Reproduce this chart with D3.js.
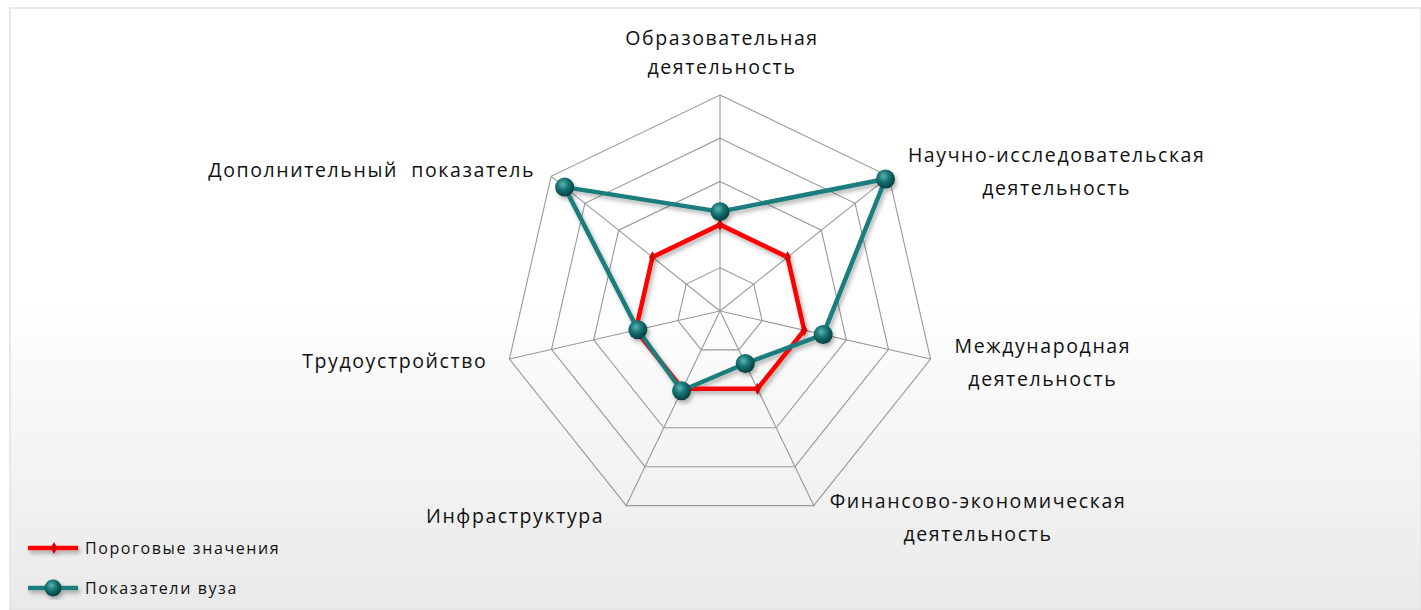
<!DOCTYPE html>
<html lang="ru">
<head>
  <meta charset="utf-8">
  <title>Radar</title>
  <script src="https://cdn.jsdelivr.net/npm/d3@7"></script>
  <style>
    body { margin: 0; background: #fff; }
    text { font-family: "Open Sans", sans-serif; fill: #111; white-space: pre; }
  </style>
</head>
<body>
<script>
  var w = 1421;
  var h = 610;

  // data
  var categories = [
    ["Образовательная", "деятельность"],
    ["Научно-исследовательская", "деятельность"],
    ["Международная", "деятельность"],
    ["Финансово-экономическая", "деятельность"],
    ["Инфраструктура"],
    ["Трудоустройство"],
    ["Дополнительный  показатель"]
  ];
  var seriesNames = ["Пороговые значения", "Показатели вуза"];
  var thresholds = [2, 2, 2, 2, 2, 2, 2];
  var university = [2.3, 4.9, 2.45, 1.35, 2.05, 1.95, 4.6];
  var gridLevels = [1, 2, 3, 4, 5];

  var cx = 720, cy = 311, R = 216;
  var r = d3.scaleLinear().domain([0, 5]).range([0, R]);
  var n = categories.length;
  var angle = function(i) { return i * 2 * Math.PI / n; };
  var pt = function(i, v) {
    return [cx + r(v) * Math.sin(angle(i)), cy - r(v) * Math.cos(angle(i))];
  };

  var svg = d3.select("body").append("svg")
      .attr("width", w)
      .attr("height", h);

  var defs = svg.append("defs");
  var bg = defs.append("linearGradient").attr("id", "bg")
      .attr("x1", 0).attr("y1", 0).attr("x2", 0).attr("y2", 1);
  bg.append("stop").attr("offset", "0%").attr("stop-color", "#ffffff");
  bg.append("stop").attr("offset", "48%").attr("stop-color", "#ffffff");
  bg.append("stop").attr("offset", "100%").attr("stop-color", "#e9e9e9");

  var ball = defs.append("radialGradient").attr("id", "ball")
      .attr("cx", "40%").attr("cy", "35%").attr("r", "65%");
  ball.append("stop").attr("offset", "0%").attr("stop-color", "#5fb3b3");
  ball.append("stop").attr("offset", "45%").attr("stop-color", "#177676");
  ball.append("stop").attr("offset", "100%").attr("stop-color", "#063c3c");

  var shadow = defs.append("filter").attr("id", "shadow")
      .attr("x", "-20%").attr("y", "-20%").attr("width", "140%").attr("height", "140%");
  shadow.append("feDropShadow").attr("dx", 2).attr("dy", 3)
      .attr("stdDeviation", 2).attr("flood-color", "#000").attr("flood-opacity", 0.3);

  // frame
  svg.append("rect")
      .attr("x", 10).attr("y", 8)
      .attr("width", w - 10).attr("height", h - 8)
      .attr("fill", "url(#bg)")
      .attr("stroke", "#e2e2e2")
      .attr("stroke-width", 1.5);

  // grid
  var grid = svg.append("g").attr("class", "grid");
  var ring = d3.line();
  grid.selectAll("path.ring")
      .data(gridLevels)
      .enter()
      .append("path")
      .attr("class", "ring")
      .attr("d", function(lv) {
        return ring(d3.range(n).map(function(i) { return pt(i, lv); })) + "Z";
      })
      .attr("fill", "none")
      .attr("stroke", "#999")
      .attr("stroke-width", 1.1);

  grid.selectAll("line.spoke")
      .data(d3.range(n))
      .enter()
      .append("line")
      .attr("class", "spoke")
      .attr("x1", cx).attr("y1", cy)
      .attr("x2", function(i) { return pt(i, 5)[0]; })
      .attr("y2", function(i) { return pt(i, 5)[1]; })
      .attr("stroke", "#999")
      .attr("stroke-width", 1.1);

  // category labels: [side, dx, dy] relative to the outer vertex
  var labelPlace = [
    ["mid", 2, -50],
    ["left", 19, -14],
    ["left", 24, -6],
    ["left", 16, 2],
    ["right", -22, 17],
    ["right", -22, 9],
    ["right", -16, 1]
  ];
  var labels = svg.append("g").attr("class", "labels");
  categories.forEach(function(lines, i) {
    var v = pt(i, 5);
    var pl = labelPlace[i];
    var lh = i == 0 ? 29 : 33;
    var g = labels.append("g");
    var texts = g.selectAll("text")
        .data(lines)
        .enter()
        .append("text")
        .attr("y", function(d, k) { return v[1] + pl[2] + k * lh; })
        .attr("text-anchor", "middle")
        .style("font-size", "19.5px")
        .style("letter-spacing", "1.6px")
        .text(function(d) { return d; });
    var maxW = d3.max(texts.nodes(), function(t) { return t.getComputedTextLength(); });
    var x;
    if (pl[0] == "mid") x = v[0] + pl[1];
    else if (pl[0] == "left") x = v[0] + pl[1] + maxW / 2;
    else x = v[0] + pl[1] - maxW / 2;
    texts.attr("x", x);
  });

  // series
  var line = d3.line();
  var series = [
    { name: seriesNames[0], values: thresholds, color: "#ff0000" },
    { name: seriesNames[1], values: university, color: "#1a7d7d" }
  ];

  var plot = svg.append("g").attr("filter", "url(#shadow)");
  series.forEach(function(s, si) {
    var pts = s.values.map(function(v, i) { return pt(i, v); });
    plot.append("path")
        .attr("d", line(pts) + "Z")
        .attr("fill", "none")
        .attr("stroke", s.color)
        .attr("stroke-width", 4.5)
        .attr("stroke-linejoin", "round");
    if (si == 0) {
      plot.selectAll("path.dmd")
          .data(pts)
          .enter()
          .append("path")
          .attr("class", "dmd")
          .attr("transform", function(p) { return "translate(" + p[0] + "," + p[1] + ")"; })
          .attr("d", d3.symbol().type(d3.symbolDiamond).size(40))
          .attr("fill", "#d40000");
    } else {
      plot.selectAll("circle.ball")
          .data(pts)
          .enter()
          .append("circle")
          .attr("class", "ball")
          .attr("cx", function(p) { return p[0]; })
          .attr("cy", function(p) { return p[1]; })
          .attr("r", 9.5)
          .attr("fill", "url(#ball)");
    }
  });

  // legend
  var legend = svg.append("g").attr("class", "legend");
  series.forEach(function(s, si) {
    var y = 548 + si * 40;
    var lg = legend.append("g").attr("filter", "url(#shadow)");
    lg.append("line")
        .attr("x1", 28).attr("x2", 78)
        .attr("y1", y).attr("y2", y)
        .attr("stroke", s.color)
        .attr("stroke-width", 4.5);
    if (si == 0) {
      lg.append("path")
          .attr("transform", "translate(54," + y + ")")
          .attr("d", d3.symbol().type(d3.symbolDiamond).size(40))
          .attr("fill", "#d40000");
    } else {
      lg.append("circle")
          .attr("cx", 53).attr("cy", y).attr("r", 8.5)
          .attr("fill", "url(#ball)");
    }
    legend.append("text")
        .attr("x", 85).attr("y", y + 6)
        .style("font-size", "16px")
        .style("letter-spacing", "1.6px")
        .text(s.name);
  });
</script>
</body>
</html>
